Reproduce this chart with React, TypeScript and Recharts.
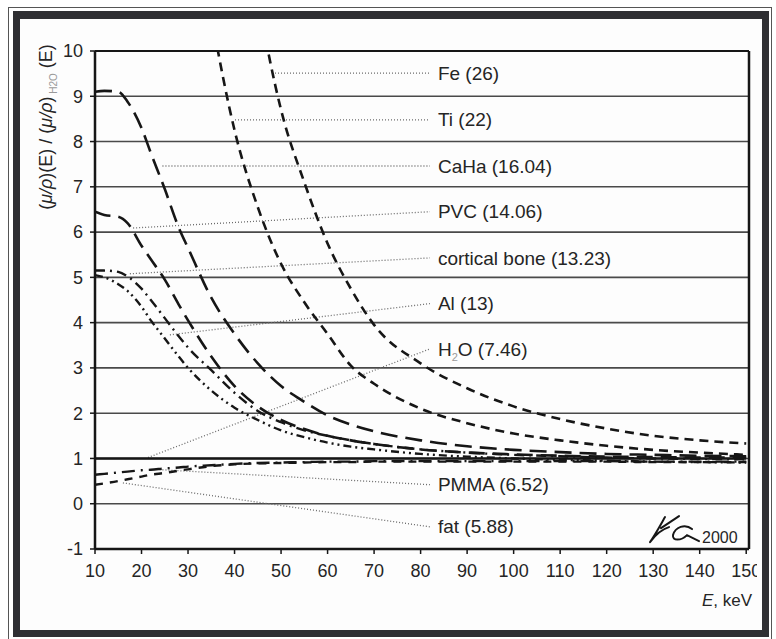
import React from 'react';
import { LineChart, Line, XAxis, YAxis, CartesianGrid, ReferenceLine, ReferenceDot } from 'recharts';

const FONT = '"Liberation Sans", Arial, Helvetica, sans-serif';
const INK = '#161616';
const GRID = '#4a4a4a';
const TEXT = '#252525';

// photon energy, keV
const energies = [10, 12, 15, 17, 20, 22, 25, 28, 30, 35, 40, 45, 50, 55, 60, 65, 70, 80, 90, 100, 110, 120, 130, 140, 150];

// (mu/rho)(E) / (mu/rho)_H2O(E)
const fe = [null, null, null, null, null, null, null, null, null, null, 14.5, 11.2, 8.7, 7.1, 5.75, 4.75, 3.95, 3.1, 2.55, 2.15, 1.87, 1.66, 1.5, 1.4, 1.33];
const ti = [null, null, null, null, null, null, null, null, 14, 10.8, 8.25, 6.55, 5.3, 4.45, 3.75, 3.05, 2.65, 2.1, 1.78, 1.55, 1.4, 1.28, 1.19, 1.13, 1.08];
const caha = [9.1, 9.12, 9.1, 8.88, 8.3, 7.75, 6.95, 6.1, 5.65, 4.55, 3.75, 3.1, 2.6, 2.25, 1.95, 1.75, 1.6, 1.4, 1.27, 1.19, 1.14, 1.1, 1.08, 1.06, 1.05];
const pvc = [6.45, 6.38, 6.34, 6.2, 5.7, 5.4, 4.95, 4.4, 4.05, 3.25, 2.6, 2.15, 1.85, 1.65, 1.5, 1.4, 1.32, 1.2, 1.13, 1.09, 1.06, 1.04, 1.03, 1.02, 1.02];
const cortical = [5.15, 5.15, 5.12, 5.02, 4.75, 4.5, 4.1, 3.7, 3.45, 2.95, 2.45, 2.05, 1.8, 1.62, 1.5, 1.4, 1.32, 1.2, 1.13, 1.08, 1.05, 1.02, 1.0, 0.99, 0.98];
const al = [5.05, 5.0, 4.85, 4.7, 4.35, 4.05, 3.65, 3.25, 3.0, 2.5, 2.12, 1.85, 1.62, 1.47, 1.35, 1.26, 1.2, 1.1, 1.04, 1.0, 0.97, 0.95, 0.93, 0.92, 0.91];
const water = [1, 1, 1, 1, 1, 1, 1, 1, 1, 1, 1, 1, 1, 1, 1, 1, 1, 1, 1, 1, 1, 1, 1, 1, 1];
const pmma = [0.64, 0.66, 0.69, 0.71, 0.74, 0.75, 0.78, 0.8, 0.82, 0.85, 0.88, 0.9, 0.91, 0.92, 0.93, 0.93, 0.94, 0.94, 0.94, 0.94, 0.94, 0.94, 0.93, 0.93, 0.93];
const fat = [0.42, 0.45, 0.5, 0.54, 0.6, 0.64, 0.68, 0.73, 0.76, 0.83, 0.87, 0.89, 0.9, 0.91, 0.92, 0.92, 0.93, 0.93, 0.93, 0.93, 0.93, 0.93, 0.92, 0.92, 0.92];

const xTicks = [10, 20, 30, 40, 50, 60, 70, 80, 90, 100, 110, 120, 130, 140, 150];
const yTicks = [-1, 0, 1, 2, 3, 4, 5, 6, 7, 8, 9, 10];

// callouts: name, label height, where the dotted leader starts
const labelNames = ['Fe (26)', 'Ti (22)', 'CaHa (16.04)', 'PVC (14.06)', 'cortical bone (13.23)', 'Al (13)', 'H2O (7.46)', 'PMMA (6.52)', 'fat (5.88)'];
const labelY = [9.51, 8.48, 7.46, 6.45, 5.43, 4.42, 3.42, 0.42, -0.51];
const leaderFromE = [48.7, 40.1, 24.5, 18.2, 17.5, 26.1, 21.4, 24.5, 16];
const leaderFromY = [9.51, 8.48, 7.46, 6.09, 5.08, 3.73, 1.02, 0.75, 0.46];
const leaderToE = 82;

const data = energies.map((e, i) => ({
  e,
  fe: fe[i],
  ti: ti[i],
  caha: caha[i],
  pvc: pvc[i],
  cortical: cortical[i],
  al: al[i],
  water: water[i],
  pmma: pmma[i],
  fat: fat[i],
}));

function materialLabel(name: string) {
  return (props: any) => {
    const vb = props.viewBox || {};
    const x = (vb.x ?? 0) + 8;
    const y = vb.y ?? 0;
    if (name.startsWith('H2O')) {
      return (
        <text x={x} y={y} dy="0.35em" fontFamily={FONT} fontSize={19} fill={TEXT}>
          <tspan>H</tspan>
          <tspan fontSize={11} fill="#9a9a9a" dy={5}>2</tspan>
          <tspan dy={-5}>{name.slice(2)}</tspan>
        </text>
      );
    }
    return (
      <text x={x} y={y} dy="0.35em" fontFamily={FONT} fontSize={19} fill={TEXT}>
        {name}
      </text>
    );
  };
}

function YTitle(props: any) {
  const vb = props.viewBox || {};
  const cx = (vb.x ?? 0) + 11;
  const cy = (vb.y ?? 0) + 76;
  return (
    <text
      x={cx}
      y={cy}
      transform={`rotate(-90 ${cx} ${cy})`}
      textAnchor="middle"
      dy="0.35em"
      fontFamily={FONT}
      fontSize={18}
      fill={TEXT}
    >
      <tspan>(</tspan>
      <tspan fontStyle="italic">μ/ρ</tspan>
      <tspan>)(E) / (</tspan>
      <tspan fontStyle="italic">μ/ρ</tspan>
      <tspan>)</tspan>
      <tspan fontSize={10} fill="#9a9a9a" dy={5}> H2O</tspan>
      <tspan dy={-5}> (E)</tspan>
    </text>
  );
}

function XTitle(props: any) {
  const vb = props.viewBox || {};
  const x = (vb.x ?? 0) + (vb.width ?? 0) + 3;
  const y = (vb.y ?? 0) + 51;
  return (
    <text x={x} y={y} textAnchor="end" dy="0.35em" fontFamily={FONT} fontSize={17} fill={TEXT}>
      <tspan fontStyle="italic">E</tspan>
      <tspan>, keV</tspan>
    </text>
  );
}

function Signature(props: any) {
  const vb = props.viewBox || {};
  const x = vb.x ?? 0;
  const y = vb.y ?? 0;
  return (
    <g>
      <path
        d={`M ${x - 37} ${y - 26} C ${x - 41} ${y - 19}, ${x - 47} ${y - 8}, ${x - 52} ${y - 1}
            M ${x - 52} ${y - 1} C ${x - 46} ${y - 9}, ${x - 40} ${y - 14}, ${x - 33} ${y - 16}
            M ${x - 41} ${y - 15} L ${x - 23} ${y - 27}
            M ${x - 10} ${y - 14} C ${x - 17} ${y - 20}, ${x - 27} ${y - 16}, ${x - 29} ${y - 8}
            C ${x - 30} ${y - 2}, ${x - 21} ${y - 2}, ${x - 15} ${y - 8} L ${x - 3} ${y - 2}`}
        fill="none"
        stroke={INK}
        strokeWidth={2}
        strokeLinecap="round"
      />
      <text x={x} y={y} fontFamily={FONT} fontSize={16} fill={TEXT}>
        2000
      </text>
    </g>
  );
}

export default function App() {
  return (
    <div style={{ position: 'absolute', left: 0, top: 0, width: 776, height: 639, background: '#fff', overflow: 'hidden' }}>
      <div style={{ position: 'absolute', left: 8, top: 7, width: 764, height: 640, border: '1px solid #555', boxSizing: 'border-box' }} />
      <div
        style={{
          position: 'absolute',
          left: 13,
          top: 11,
          width: 756,
          height: 626,
          borderStyle: 'solid',
          borderColor: '#2f2f33',
          borderWidth: '8px 7px 7px 7px',
          boxSizing: 'border-box',
          background: '#fdfdfd',
        }}
      />
      <div style={{ position: 'absolute', left: 0, top: 0 }}>
        <LineChart width={757} height={639} data={data} margin={{ top: 51, right: 8, bottom: 60, left: 35 }}>
          <CartesianGrid horizontal vertical={false} stroke={GRID} strokeWidth={1.6} />
          <XAxis
            type="number"
            dataKey="e"
            domain={[10, 150.6]}
            ticks={xTicks}
            interval={0}
            allowDataOverflow
            height={30}
            tickSize={5}
            tickMargin={10}
            axisLine={{ stroke: INK, strokeWidth: 2.5 }}
            tickLine={{ stroke: INK, strokeWidth: 1.5 }}
            tick={{ fontFamily: FONT, fontSize: 18, fill: TEXT }}
            label={{ content: XTitle }}
          />
          <YAxis
            type="number"
            domain={[-1, 10]}
            ticks={yTicks}
            interval={0}
            allowDataOverflow
            width={60}
            tickSize={5}
            tickMargin={7}
            axisLine={{ stroke: INK, strokeWidth: 2.5 }}
            tickLine={{ stroke: INK, strokeWidth: 1.5 }}
            tick={{ fontFamily: FONT, fontSize: 18, fill: TEXT }}
            label={{ content: YTitle }}
          />
          <ReferenceLine y={10} stroke={INK} strokeWidth={2} />
          <ReferenceLine x={150.6} stroke={INK} strokeWidth={2.5} />

          {labelNames.map((name, i) => (
            <ReferenceLine
              key={`lead-${name}`}
              segment={[
                { x: leaderFromE[i], y: leaderFromY[i] },
                { x: leaderToE, y: labelY[i] },
              ]}
              stroke="#6a6a6a"
              strokeWidth={1.3}
              strokeDasharray="1 2"
            />
          ))}

          <Line type="monotone" dataKey="water" stroke={INK} strokeWidth={2.6} dot={false} isAnimationActive={false} />
          <Line type="monotone" dataKey="fat" stroke={INK} strokeWidth={2.4} strokeDasharray="8 7" dot={false} isAnimationActive={false} />
          <Line type="monotone" dataKey="pmma" stroke={INK} strokeWidth={2.4} strokeDasharray="13 6 2 6" dot={false} isAnimationActive={false} />
          <Line type="monotone" dataKey="al" stroke={INK} strokeWidth={2.4} strokeDasharray="8 4 2 4 2 4" dot={false} isAnimationActive={false} />
          <Line type="monotone" dataKey="cortical" stroke={INK} strokeWidth={2.4} strokeDasharray="10 5 2 5" dot={false} isAnimationActive={false} />
          <Line type="monotone" dataKey="pvc" stroke={INK} strokeWidth={2.6} strokeDasharray="16 8" dot={false} isAnimationActive={false} />
          <Line type="monotone" dataKey="caha" stroke={INK} strokeWidth={2.6} strokeDasharray="17 8" dot={false} isAnimationActive={false} />
          <Line type="monotone" dataKey="ti" stroke={INK} strokeWidth={2.6} strokeDasharray="9 6" dot={false} isAnimationActive={false} />
          <Line type="monotone" dataKey="fe" stroke={INK} strokeWidth={2.6} strokeDasharray="9 6" dot={false} isAnimationActive={false} />

          {labelNames.map((name, i) => (
            <ReferenceDot
              key={`lab-${name}`}
              x={leaderToE}
              y={labelY[i]}
              r={0}
              fill="none"
              stroke="none"
              label={{ content: materialLabel(name) }}
            />
          ))}
          <ReferenceDot x={140.5} y={-0.87} r={0} fill="none" stroke="none" label={{ content: Signature }} />
        </LineChart>
      </div>
    </div>
  );
}
